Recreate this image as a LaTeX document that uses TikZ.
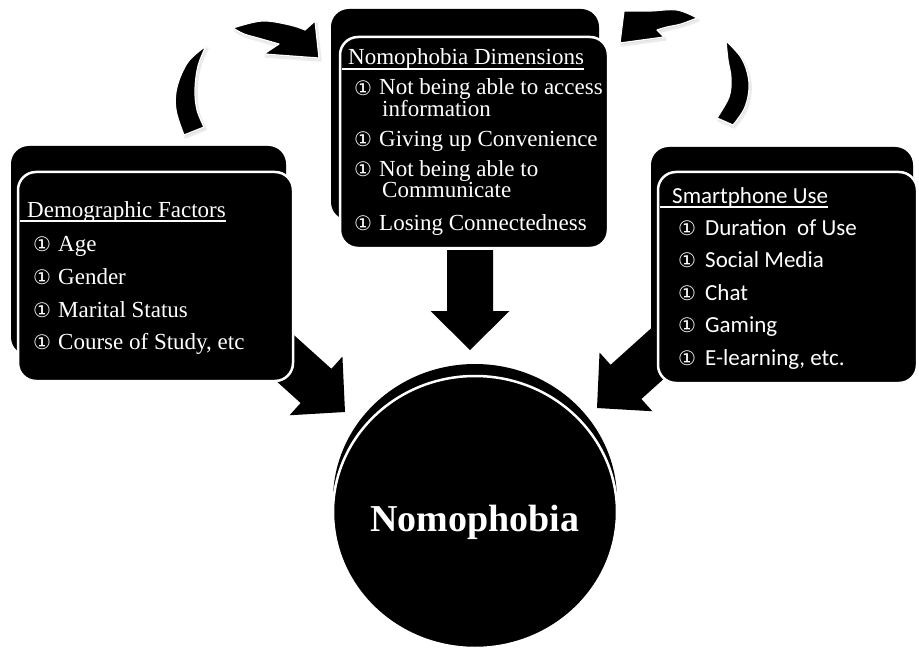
\documentclass[tikz,border=0pt]{standalone}
\usepackage{fontspec}
\setmainfont{Liberation Serif}
\newfontfamily\smartfont{Carlito}
\newfontfamily\bulletfont{DejaVu Sans}
\usetikzlibrary{calc,shapes.geometric}

% outlines of the two bent arrows (lower band and upper band with head)
\newcommand\leftlowerband{plot[smooth, tension=0.6] coordinates {(184,135) (176,110) (177,87) (188,62) (206,46)}
  -- plot[smooth, tension=0.6] coordinates {(206,46) (198,66) (195,90) (197,110) (204,127)} -- cycle}
\newcommand\leftupperband{plot[smooth, tension=0.6] coordinates {(233,28) (262,21) (290,25) (305,30)}
  -- (315,21) -- (319,58) -- (264,54) -- (279,44)
  -- plot[smooth, tension=0.6] coordinates {(279,44) (258,38) (244,34) (233,28)} -- cycle}
\newcommand\rightlowerband{plot[smooth, tension=0.6] coordinates {(733,125) (745,107) (749,83) (742,59) (726,41)}
  -- plot[smooth, tension=0.6] coordinates {(726,41) (728,60) (731,78) (729,97) (717,118)} -- cycle}
\newcommand\rightupperband{(624,11) -- plot[smooth, tension=0.6] coordinates {(624,11) (650,11) (677,10) (697,18)}
  -- plot[smooth, tension=0.6] coordinates {(697,18) (681,24) (667,27) (657,30)}
  -- (664,37) -- (620,43) -- cycle}

\begin{document}
\begin{tikzpicture}[x=1pt,y=-1pt,
  panelback/.style={fill=black, rounded corners=18pt, inner sep=0pt},
  panelfront/.style={fill=black, draw=white, line width=2.5pt, rounded corners=18pt, inner sep=0pt},
  txt/.style={text=white, anchor=base west, inner sep=0pt, align=left,
    font=\fontsize{23}{21}\selectfont},
  sanstxt/.style={text=white, anchor=base west, inner sep=0pt, font=\smartfont\fontsize{23}{26}\selectfont},
  bulletmark/.style={text=white, anchor=base west, inner sep=0pt, font=\bulletfont\fontsize{20}{20}\selectfont},
  uline/.style={white, line width=1.1pt},
  bentarrow/.style={fill=black, draw=white, line width=1.2pt, line join=round},
  bentshadow/.style={fill=black!14, draw=black!8, line width=2.5pt, line join=round},
  pics/blockarrow/.style={code={
    \fill[black] (-#1,-23) -- (-39,-23) -- (-39,-39.5) -- (0,0)
      -- (-39,39.5) -- (-39,23) -- (-#1,23) -- cycle;}}
]
\useasboundingbox (0,0) rectangle (919,650);

% central circle with its raised back layer
\node[ellipse, fill=black, minimum width=284, minimum height=272, inner sep=0pt] (coreback) at (475,500) {};
\node[ellipse, fill=black, draw=white, line width=2.5pt, minimum width=284, minimum height=272, inner sep=0pt] (core) at (475,512) {};
\node[text=white, anchor=base, inner sep=0pt, font=\bfseries\fontsize{38}{40}\selectfont] (coretext) at (475,531) {Nomophobia};

% block arrows pointing at the circle
\coordinate (tipdown) at (470,350);
\coordinate (tipleft) at (345,412);
\coordinate (tipright) at (597,408);
\pic[shift={(tipdown)}, rotate=-90] {blockarrow=100};
\pic[shift={(tipleft)}, rotate=-42] {blockarrow=110};
\pic[shift={(tipright)}, rotate=-138] {blockarrow=110};

% panels: back layer, then outlined front layer
\node[panelback, minimum width=275, minimum height=209] (demoback) at (148.5,250.5) {};
\node[panelfront, minimum width=275, minimum height=209] (demo) at (155.5,276.5) {};
\node[panelback, minimum width=268, minimum height=211] (dimback) at (465,114.5) {};
\node[panelfront, minimum width=268, minimum height=211] (dim) at (474,142.5) {};
\node[panelback, minimum width=262, minimum height=211] (useback) at (782,252.5) {};
\node[panelfront, minimum width=259, minimum height=211] (use) at (787.5,277.5) {};

% Demographic Factors
\node[txt] (demotitle) at (27,218) {Demographic Factors};
\draw[uline] ($(demo.west |- demotitle.base)+(3,3)$) -- ($(demotitle.base east)+(0,3)$);
\foreach \t [count=\i] in {Age, Gender, Marital Status, {Course of Study, etc}} {
  \pgfmathsetmacro\yb{251.5+32.8*(\i-1)}
  \node[bulletmark] (demob\i) at (33,\yb) {①};
  \node[txt] (demoi\i) at (58,\yb) {\t};
}

% Nomophobia Dimensions (two-line items are anchored on their second line)
\node[txt] (dimtitle) at (348,65) {Nomophobia Dimensions};
\draw[uline] ($(dim.west |- dimtitle.base)+(3,4)$) -- ($(dimtitle.base east)+(0,4)$);
\node[bulletmark] (dimb1) at (354,96) {①};
\node[txt] (dimi1) at (379,117) {Not being able to access\\\hspace*{3pt}information};
\node[bulletmark] (dimb2) at (354,147) {①};
\node[txt] (dimi2) at (379,147) {Giving up Convenience};
\node[bulletmark] (dimb3) at (354,177) {①};
\node[txt] (dimi3) at (379,198) {Not being able to\\\hspace*{3pt}Communicate};
\node[bulletmark] (dimb4) at (354,230) {①};
\node[txt] (dimi4) at (379,230) {Losing Connectedness};

% Smartphone Use
\node[sanstxt] (usetitle) at (672,204) {Smartphone Use};
\draw[uline] ($(use.west |- usetitle.base)+(3,3)$) -- ($(usetitle.base east)+(0,3)$);
\foreach \t [count=\i] in {Duration~ of Use, Social Media, Chat, Gaming, {E-learning, etc.}} {
  \pgfmathsetmacro\yb{235+32.5*(\i-1)}
  \node[bulletmark] (useb\i) at (678,\yb) {①};
  \node[sanstxt] (usei\i) at (705,\yb) {\t};
}

% soft shadows under the bent arrows
\begin{scope}[shift={(1.5,2.5)}]
  \filldraw[bentshadow] \leftlowerband;
  \filldraw[bentshadow] \leftupperband;
  \filldraw[bentshadow] \rightlowerband;
  \filldraw[bentshadow] \rightupperband;
\end{scope}
% bent arrows linking the side panels with the dimensions panel
\filldraw[bentarrow] \leftlowerband;
\filldraw[bentarrow] \leftupperband;
\filldraw[bentarrow] \rightlowerband;
\filldraw[bentarrow] \rightupperband;
\end{tikzpicture}
\end{document}
